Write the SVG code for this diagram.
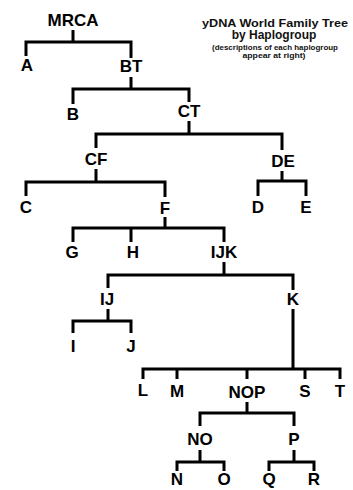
<svg xmlns="http://www.w3.org/2000/svg" width="353" height="490" viewBox="0 0 353 490">
<style>
.n{font-family:"Liberation Sans","DejaVu Sans",Arial,sans-serif;font-weight:bold;font-size:17px;fill:#000;text-anchor:middle}
.t{font-family:"Liberation Sans","DejaVu Sans",Arial,sans-serif;font-weight:bold;fill:#111;text-anchor:middle}
.e{fill:none;stroke:#000;stroke-width:3;stroke-linejoin:miter;stroke-linecap:butt}
</style>
<rect width="353" height="490" fill="#fff"/>
<g id="title">
<text class="t" x="275" y="27" font-size="11" textLength="146" lengthAdjust="spacingAndGlyphs">yDNA World Family Tree</text>
<text class="t" x="274" y="39" font-size="12">by Haplogroup</text>
<text class="t" x="275" y="50" font-size="6.5" textLength="126" lengthAdjust="spacingAndGlyphs">(descriptions of each haplogroup</text>
<text class="t" x="274" y="58" font-size="6.5" textLength="63" lengthAdjust="spacingAndGlyphs">appear at right)</text>
</g>
<g id="connectors">
<path class="e" d="M73 30V42M26 56V42H131V58"/>
<path class="e" d="M131 77V89M73 104V89H189V102"/>
<path class="e" d="M189 121V134M96 148V134H282V150"/>
<path class="e" d="M96 169V182M26 196V182H165V197"/>
<path class="e" d="M165 217V228M73 242V228H224V242M131 228V242"/>
<path class="e" d="M282 171V181M258 196V181H306V196"/>
<path class="e" d="M224 262V275M108 288V275H293V290"/>
<path class="e" d="M108 309V321M73 333V321H131V333"/>
<path class="e" d="M293 309V369M143 379V369H340V379M177 369V379M247 369V379M305 369V379"/>
<path class="e" d="M247 402V413M200 426V413H294V426"/>
<path class="e" d="M200 450V462M177 471V462H224V471"/>
<path class="e" d="M294 450V462M269 471V462H314V471"/>
</g>
<g id="MRCA"><text class="n" x="73" y="26">MRCA</text></g>
<g id="A"><text class="n" x="27" y="71">A</text></g>
<g id="BT"><text class="n" x="131" y="72">BT</text></g>
<g id="B"><text class="n" x="73" y="120">B</text></g>
<g id="CT"><text class="n" x="189" y="117">CT</text></g>
<g id="CF"><text class="n" x="96" y="165">CF</text></g>
<g id="DE"><text class="n" x="283" y="167">DE</text></g>
<g id="C"><text class="n" x="26" y="213">C</text></g>
<g id="F"><text class="n" x="165" y="214">F</text></g>
<g id="D"><text class="n" x="258" y="213">D</text></g>
<g id="E"><text class="n" x="306" y="213">E</text></g>
<g id="G"><text class="n" x="72" y="258">G</text></g>
<g id="H"><text class="n" x="133" y="258">H</text></g>
<g id="IJK"><text class="n" x="224" y="258">IJK</text></g>
<g id="IJ"><text class="n" x="107" y="305">IJ</text></g>
<g id="K"><text class="n" x="293" y="305">K</text></g>
<g id="I"><text class="n" x="73" y="352">I</text></g>
<g id="J"><text class="n" x="131" y="352">J</text></g>
<g id="L"><text class="n" x="143" y="396">L</text></g>
<g id="M"><text class="n" x="177" y="397">M</text></g>
<g id="NOP"><text class="n" x="247" y="398">NOP</text></g>
<g id="S"><text class="n" x="305" y="397">S</text></g>
<g id="T"><text class="n" x="340" y="397">T</text></g>
<g id="NO"><text class="n" x="200" y="445">NO</text></g>
<g id="P"><text class="n" x="294" y="445">P</text></g>
<g id="N"><text class="n" x="177" y="485">N</text></g>
<g id="O"><text class="n" x="224" y="485">O</text></g>
<g id="Q"><text class="n" x="269" y="485">Q</text></g>
<g id="R"><text class="n" x="314" y="485">R</text></g>
</svg>
